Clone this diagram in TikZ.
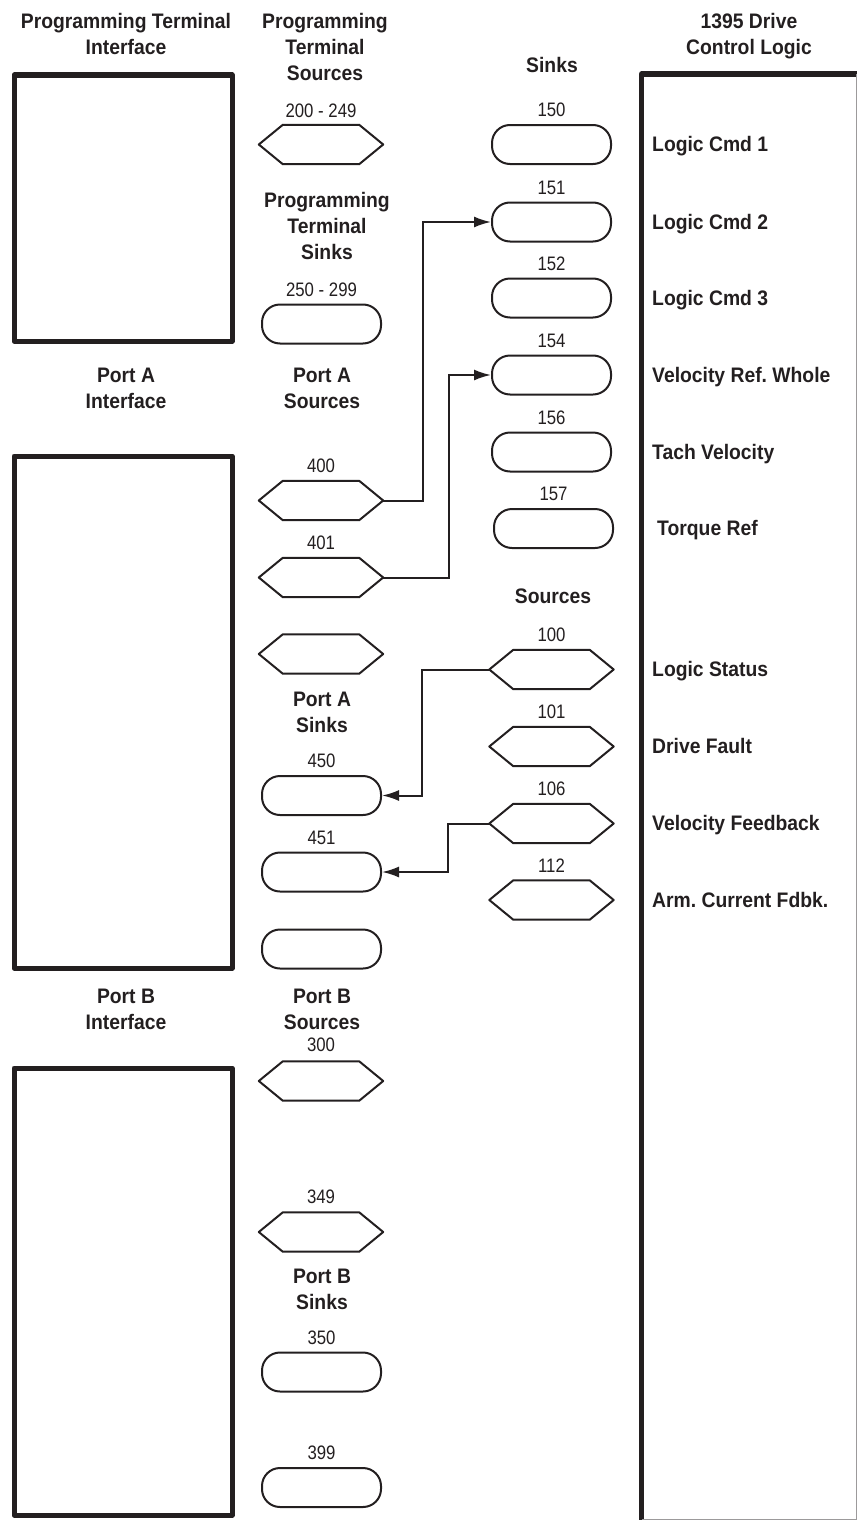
\documentclass[tikz,border=0pt]{standalone}
\usepackage{fontspec}
\setmainfont{Liberation Sans}[FakeStretch=0.92]
\newfontfamily\numfont{Liberation Sans}[FakeStretch=0.86]
\usetikzlibrary{arrows.meta}
\definecolor{ink}{RGB}{35,31,32}
\frenchspacing

% hexagonal outline around a (borderless) source node
\newcommand\hexoutline[1]{%
  \draw[shapeline] (#1.west) -- ([xshift=24pt]#1.north west) -- ([xshift=-24pt]#1.north east)
    -- (#1.east) -- ([xshift=-24pt]#1.south east) -- ([xshift=24pt]#1.south west) -- cycle;}

\begin{document}
\begin{tikzpicture}[x=1pt,y=-1pt,
  hdr/.style={font=\fontsize{21}{26}\selectfont\bfseries, align=center, anchor=north, inner sep=0pt, text=ink},
  num/.style={font=\numfont\fontsize{19.5}{21}\selectfont, anchor=base, inner sep=0pt, text=ink},
  sig/.style={font=\fontsize{21}{26}\selectfont\bfseries, anchor=base west, inner sep=0pt, text=ink},
  shapeline/.style={draw=ink, line width=2pt, line join=round},
  srcbox/.style={draw=none, minimum width=124pt, minimum height=39pt, inner sep=0pt},
  snkbox/.style={draw=ink, line width=2pt, rounded corners=18pt, minimum width=119pt, minimum height=39pt, inner sep=0pt},
  panel/.style={draw=ink, line width=5pt, line join=round},
  link/.style={draw=ink, line width=2pt},
  feed/.style={link, -{Latex[length=17pt,width=11pt]}}]

\useasboundingbox (0,0) rectangle (857,1520);

% ---------- interface panels ----------
\draw[panel] (14,75) rectangle (232,341);
\draw[panel] (14,456) rectangle (232,968);
\draw[panel] (14,1068) rectangle (232,1515);
\draw[panel] (856.5,74) -- (641.5,74) -- (641.5,1522);
\draw[draw=ink!45, line width=1pt] (856.5,74) -- (856.5,1519.5) -- (641.5,1519.5);

% ---------- column headings ----------
\node[hdr] (hPTI) at (126,13) {Programming Terminal\\Interface};
\node[hdr] (hPTS) at (325,13) {Programming\\Terminal\\Sources};
\node[hdr] (hSnk) at (552,57) {Sinks};
\node[hdr] (hDCL) at (749,13) {1395 Drive\\Control Logic};
\node[hdr] (hPTK) at (327,192) {Programming\\Terminal\\Sinks};
\node[hdr] (hPAI) at (126,368) {Port A\\Interface};
\node[hdr] (hPAS) at (322,368) {Port A\\Sources};
\node[hdr] (hPAK) at (322,692) {Port A\\Sinks};
\node[hdr] (hSrc) at (553,589) {Sources};
\node[hdr] (hPBI) at (126,989) {Port B\\Interface};
\node[hdr] (hPBS) at (322,989) {Port B\\Sources};
\node[hdr] (hPBK) at (322,1269) {Port B\\Sinks};

% ---------- drive sinks ----------
\node[snkbox] (s150) at (551.5,144.5) {};
\node[snkbox] (s151) at (551.5,222) {};
\node[snkbox] (s152) at (551.5,298) {};
\node[snkbox] (s154) at (551.5,375) {};
\node[snkbox] (s156) at (551.5,452) {};
\node[snkbox] (s157) at (553.5,528.5) {};
\node[num] (n150) at (551.5,116.5) {150};
\node[num] (n151) at (551.5,194) {151};
\node[num] (n152) at (551.5,270) {152};
\node[num] (n154) at (551.5,347) {154};
\node[num] (n156) at (551.5,424) {156};
\node[num] (n157) at (553.5,500.5) {157};

% ---------- drive sources ----------
\node[srcbox] (q100) at (551.5,669.5) {};
\node[srcbox] (q101) at (551.5,746.5) {};
\node[srcbox] (q106) at (551.5,823.5) {};
\node[srcbox] (q112) at (551.5,900) {};
\foreach \n in {q100,q101,q106,q112} {\hexoutline{\n}}
\node[num] (n100) at (551.5,641.5) {100};
\node[num] (n101) at (551.5,718.5) {101};
\node[num] (n106) at (551.5,795.5) {106};
\node[num] (n112) at (551.5,872) {112};

% ---------- drive signal names ----------
\node[sig] (tLC1) at (652,151.5) {Logic Cmd 1};
\node[sig] (tLC2) at (652,229) {Logic Cmd 2};
\node[sig] (tLC3) at (652,305) {Logic Cmd 3};
\node[sig] (tVRW) at (652,382) {Velocity Ref. Whole};
\node[sig] (tTV)  at (652,459) {Tach Velocity};
\node[sig] (tTR)  at (657,535.5) {Torque Ref};
\node[sig] (tLS)  at (652,676.5) {Logic Status};
\node[sig] (tDF)  at (652,753.5) {Drive Fault};
\node[sig] (tVF)  at (652,830.5) {Velocity Feedback};
\node[sig] (tACF) at (652,907) {Arm. Current Fdbk.};

% ---------- programming terminal ----------
\node[srcbox] (p200) at (321,144.5) {};
\hexoutline{p200}
\node[num] (n200) at (321,117) {200 - 249};
\node[snkbox] (p250) at (321.5,324) {};
\node[num] (n250) at (321.5,296) {250 - 299};

% ---------- port A ----------
\node[srcbox] (a400) at (321,500.5) {};
\node[srcbox] (a401) at (321,577.5) {};
\node[srcbox] (a4xx) at (321,654) {};
\foreach \n in {a400,a401,a4xx} {\hexoutline{\n}}
\node[num] (n400) at (321,472.5) {400};
\node[num] (n401) at (321,549.5) {401};
\node[snkbox] (a450) at (321.5,795.5) {};
\node[snkbox] (a451) at (321.5,872) {};
\node[snkbox] (a45x) at (321.5,949) {};
\node[num] (n450) at (321.5,767.5) {450};
\node[num] (n451) at (321.5,844) {451};

% ---------- port B ----------
\node[srcbox] (b300) at (321,1081) {};
\node[srcbox] (b349) at (321,1232) {};
\foreach \n in {b300,b349} {\hexoutline{\n}}
\node[num] (n300) at (321,1051) {300};
\node[num] (n349) at (321,1203) {349};
\node[snkbox] (b350) at (321.5,1372) {};
\node[snkbox] (b399) at (321.5,1487.5) {};
\node[num] (n350) at (321.5,1344) {350};
\node[num] (n399) at (321.5,1459.5) {399};

% ---------- links ----------
\draw[feed] (a400.east) -- ++(40,0) |- (s151.west);
\draw[feed] (a401.east) -- ++(66,0) |- (s154.west);
\draw[feed] (q100.west) -- ++(-67,0) |- (a450.east);
\draw[feed] (q106.west) -- ++(-41,0) |- (a451.east);

\end{tikzpicture}
\end{document}
